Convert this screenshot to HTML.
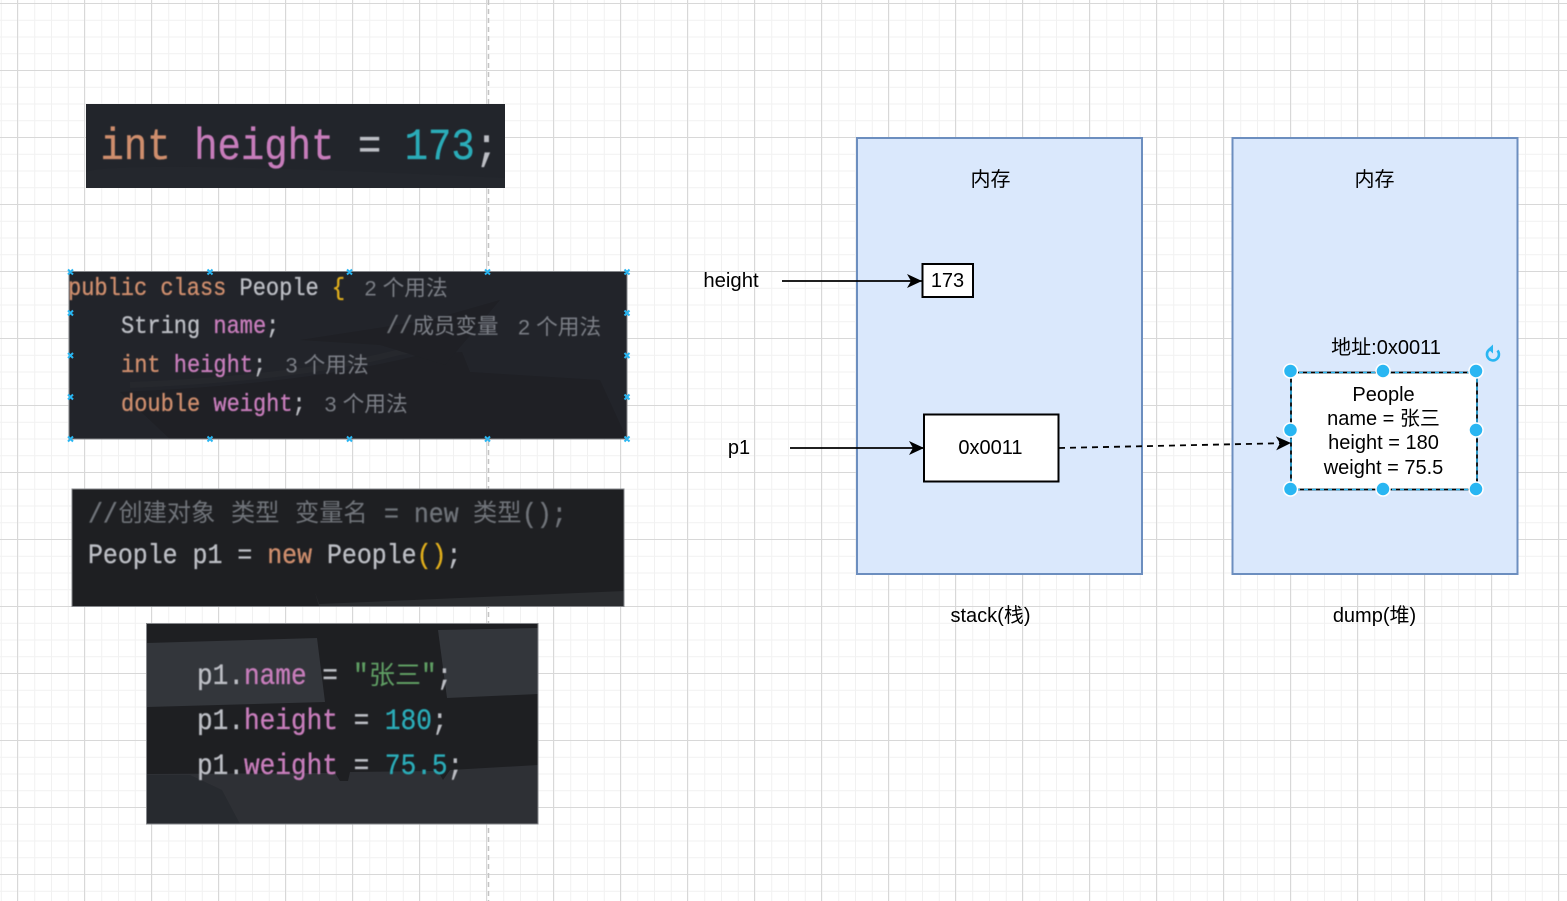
<!DOCTYPE html>
<html><head><meta charset="utf-8">
<style>
html,body{margin:0;padding:0;background:#fff;width:1567px;height:901px;overflow:hidden}
svg{display:block}
.m{font-family:"Liberation Mono","Noto Sans CJK SC",monospace;white-space:pre;stroke-width:.3}
.c{font-family:"Liberation Sans","Noto Sans CJK SC",sans-serif;fill:#7a7e85}
.l{font-family:"Liberation Sans","Noto Sans CJK SC",sans-serif;font-size:20px;fill:#000;text-anchor:middle}
.k{fill:#cf8e6d;stroke:#cf8e6d}.p{fill:#c77dbb;stroke:#c77dbb}.n{fill:#2aacb8;stroke:#2aacb8}.t{fill:#bcbec4;stroke:#bcbec4}.y{fill:#e0ae1c;stroke:#e0ae1c}.g{fill:#5f9e63;stroke:#5f9e63}.d{fill:#6f7379;stroke:#6f7379}
</style></head><body>
<svg width="1567" height="901" viewBox="0 0 1567 901" xmlns="http://www.w3.org/2000/svg">
<defs>
<pattern id="minor" width="16.75" height="16.75" patternUnits="userSpaceOnUse" x="0.75" y="3">
<path d="M0 .5H16.75M.5 0V16.75" stroke="#f1f1f1" stroke-width="1" fill="none"/>
</pattern>
<pattern id="major" width="67" height="67" patternUnits="userSpaceOnUse" x="17" y="3">
<path d="M0 .5H67M.5 0V67" stroke="#d8d8d8" stroke-width="1" fill="none"/>
</pattern>
<filter id="b" x="-5%" y="-5%" width="110%" height="110%"><feGaussianBlur stdDeviation="0.45"/></filter>
<marker id="ah" markerUnits="userSpaceOnUse" markerWidth="16" markerHeight="16" refX="15" refY="8" orient="auto">
<path d="M0 1L15 8L0 15L4 8Z" fill="#000"/>
</marker>
</defs>
<rect width="1567" height="901" fill="#fff"/>
<rect width="1567" height="901" fill="url(#minor)"/>
<rect width="1567" height="901" fill="url(#major)"/>
<line x1="488.5" y1="0" x2="488.5" y2="901" stroke="#c4c4c4" stroke-width="1.5" stroke-dasharray="5 4"/>

<!-- card 1 -->
<rect x="86" y="104" width="419" height="84" fill="#22252b"/>
<path d="M86 172Q100 166 200 167T505 178V188H86Z" fill="#24272d"/>
<g filter="url(#b)"><text class="m" transform="translate(100.5 159) scale(1 1.14)" font-size="39"><tspan class="k">int</tspan> <tspan class="p">height</tspan> <tspan class="t">=</tspan> <tspan class="n">173</tspan><tspan class="t">;</tspan></text></g>

<!-- card 2 -->
<rect x="69" y="271.5" width="558" height="167.5" fill="#22242a"/>
<path d="M120 392Q300 385 420 355L462 352L470 372L600 380L627 439H170Z" fill="#1f2025"/>
<path d="M130 385Q300 378 400 352L460 345" stroke="#26282d" stroke-width="6" fill="none"/>
<path d="M300 340L430 320L500 300L445 365L380 345Z" fill="#1f2025"/>
<rect x="69" y="271.5" width="558" height="167.5" fill="none" stroke="#85878b" stroke-width="1"/>
<g filter="url(#b)" font-size="22">
<text class="m" transform="translate(68 295) scale(1 1.12)"><tspan class="k">public class</tspan> <tspan class="t">People</tspan> <tspan class="y">{</tspan></text>
<text class="c" x="364.5" y="295.5" font-size="21.7">2 个用法</text>
<text class="m" transform="translate(121 333) scale(1 1.12)"><tspan class="t">String</tspan> <tspan class="p">name</tspan><tspan class="t">;</tspan></text>
<text class="m d" transform="translate(386 333) scale(1 1.12)">//</text>
<text class="c" x="412.5" y="333.5" font-size="21.5">成员变量</text>
<text class="c" x="518" y="334.5" font-size="21.7">2 个用法</text>
<text class="m" transform="translate(121 372) scale(1 1.12)"><tspan class="k">int</tspan> <tspan class="p">height</tspan><tspan class="t">;</tspan></text>
<text class="c" x="285.5" y="372.5" font-size="21.7">3 个用法</text>
<text class="m" transform="translate(121 411) scale(1 1.12)"><tspan class="k">double</tspan> <tspan class="p">weight</tspan><tspan class="t">;</tspan></text>
<text class="c" x="324.5" y="411.5" font-size="21.7">3 个用法</text>
</g>

<!-- card 3 -->
<rect x="72" y="489" width="552" height="117.5" fill="#1e1f22"/>
<path d="M315 592L319 604L624 591V606.5H319Z" fill="#2b2d30"/>
<rect x="72" y="489" width="552" height="117.5" fill="none" stroke="#85878b" stroke-width="1"/>
<g filter="url(#b)">
<text class="m d" transform="translate(88 522) scale(1 1.12)" font-size="24.9">//</text>
<text class="c" x="118.5" y="521" font-size="24.2" style="fill:#6f7379">创建对象</text>
<text class="c" x="231" y="521" font-size="24.2" style="fill:#6f7379">类型</text>
<text class="c" x="295" y="521" font-size="24.2" style="fill:#6f7379">变量名</text>
<text class="m d" transform="translate(384 522) scale(1 1.12)" font-size="24.9">= new</text>
<text class="c" x="473" y="521" font-size="24.2" style="fill:#6f7379">类型</text>
<text class="m d" transform="translate(522 522) scale(1 1.12)" font-size="24.9">();</text>
<text class="m" transform="translate(88 563) scale(1 1.12)" font-size="24.9"><tspan class="t">People p1 =</tspan> <tspan class="k">new</tspan> <tspan class="t">People</tspan><tspan class="y">()</tspan><tspan class="t">;</tspan></text>
</g>

<!-- card 4 -->
<rect x="146.5" y="623.5" width="391.5" height="200.5" fill="#1e1f22"/>
<path d="M147 643L317 638L325 702L147 707Z" fill="#33363b"/>
<path d="M438 630L538 628V694L447 698Z" fill="#33363b"/>
<path d="M147 774L335 773L340 781L348 781L350 772L438 771L443 780L450 770L538 765V824H147Z" fill="#2e3035"/>
<path d="M147 775L190 775L222 790L240 824H147Z" fill="#272a2f"/>
<rect x="146.5" y="623.5" width="391.5" height="200.5" fill="none" stroke="#85878b" stroke-width="1"/>
<g filter="url(#b)" font-size="26.1">
<text class="m" transform="translate(197 684) scale(1 1.12)"><tspan class="t">p1.</tspan><tspan class="p">name</tspan> <tspan class="t">=</tspan></text>
<text class="m g" transform="translate(353 684) scale(1 1.12)">"</text>
<text class="c" x="369" y="684" font-size="26" style="fill:#5f9e63">张三</text>
<text class="m" transform="translate(421 684) scale(1 1.12)"><tspan class="g">"</tspan><tspan class="t">;</tspan></text>
<text class="m" transform="translate(197 729) scale(1 1.12)"><tspan class="t">p1.</tspan><tspan class="p">height</tspan> <tspan class="t">=</tspan> <tspan class="n">180</tspan><tspan class="t">;</tspan></text>
<text class="m" transform="translate(197 774) scale(1 1.12)"><tspan class="t">p1.</tspan><tspan class="p">weight</tspan> <tspan class="t">=</tspan> <tspan class="n">75.5</tspan><tspan class="t">;</tspan></text>
</g>

<!-- containers -->
<rect x="857" y="138" width="285" height="436" fill="#dae8fc" stroke="#6c8ebf" stroke-width="2"/>
<rect x="1232.5" y="138" width="285" height="436" fill="#dae8fc" stroke="#6c8ebf" stroke-width="2"/>
<text class="l" x="990.5" y="186">内存</text>
<text class="l" x="1374.5" y="186">内存</text>
<text class="l" x="990.5" y="622">stack(栈)</text>
<text class="l" x="1374.5" y="622">dump(堆)</text>

<!-- stack -->
<text class="l" x="731" y="287" style="font-size:20.3px">height</text>
<text class="l" x="739" y="454">p1</text>
<line x1="782" y1="281" x2="922" y2="281" stroke="#000" stroke-width="1.8" marker-end="url(#ah)"/>
<line x1="790" y1="448" x2="924" y2="448" stroke="#000" stroke-width="1.8" marker-end="url(#ah)"/>
<rect x="922.5" y="264" width="50.5" height="33" fill="#fff" stroke="#000" stroke-width="2"/>
<text class="l" x="947.5" y="287">173</text>
<rect x="924" y="414.5" width="134.5" height="67" fill="#fff" stroke="#000" stroke-width="2"/>
<text class="l" x="990.5" y="454">0x0011</text>
<line x1="1059" y1="448" x2="1291" y2="443" stroke="#000" stroke-width="1.8" stroke-dasharray="6 5" marker-end="url(#ah)"/>

<!-- heap object -->
<text class="l" x="1386" y="354">地址:0x0011</text>
<rect x="1291" y="372.5" width="186" height="117" fill="#fff" stroke="#000" stroke-width="1.8"/>
<rect x="1291" y="372.5" width="186" height="117" fill="none" stroke="#29b6f2" stroke-width="1.5" stroke-dasharray="4 4"/>
<text class="l" x="1383.5" y="401">People</text>
<text class="l" x="1383.5" y="425">name = 张三</text>
<text class="l" x="1383.5" y="449">height = 180</text>
<text class="l" x="1383.5" y="474">weight = 75.5</text>
<g fill="#29b6f2" stroke="#fff" stroke-width="1.5">
<circle cx="1290.5" cy="371" r="7"/><circle cx="1383" cy="371" r="7"/><circle cx="1476" cy="371" r="7"/>
<circle cx="1290.5" cy="430" r="7"/><circle cx="1476" cy="430" r="7"/>
<circle cx="1290.5" cy="489" r="7"/><circle cx="1383" cy="489" r="7"/><circle cx="1476" cy="489" r="7"/>
</g>
<path d="M1489.5 349.5A6 6 0 1 0 1497.5 350.5" fill="none" stroke="#29b6f2" stroke-width="2.6"/>
<path d="M1493 344.5L1493 353.5L1488 349Z" fill="#29b6f2"/>

<!-- x handles -->
<g stroke="#29b6f2" stroke-width="2" fill="none">
<path d="M68 269.5l5 5m0-5l-5 5M207.5 269.5l5 5m0-5l-5 5M347 269.5l5 5m0-5l-5 5M485 269.5l5 5m0-5l-5 5M624.5 269.5l5 5m0-5l-5 5"/>
<path d="M68 436.5l5 5m0-5l-5 5M207.5 436.5l5 5m0-5l-5 5M347 436.5l5 5m0-5l-5 5M485 436.5l5 5m0-5l-5 5M624.5 436.5l5 5m0-5l-5 5"/>
<path d="M68 310.5l5 5m0-5l-5 5M68 353l5 5m0-5l-5 5M68 394.5l5 5m0-5l-5 5"/>
<path d="M624.5 310.5l5 5m0-5l-5 5M624.5 353l5 5m0-5l-5 5M624.5 394.5l5 5m0-5l-5 5"/>
</g>
</svg>
</body></html>
